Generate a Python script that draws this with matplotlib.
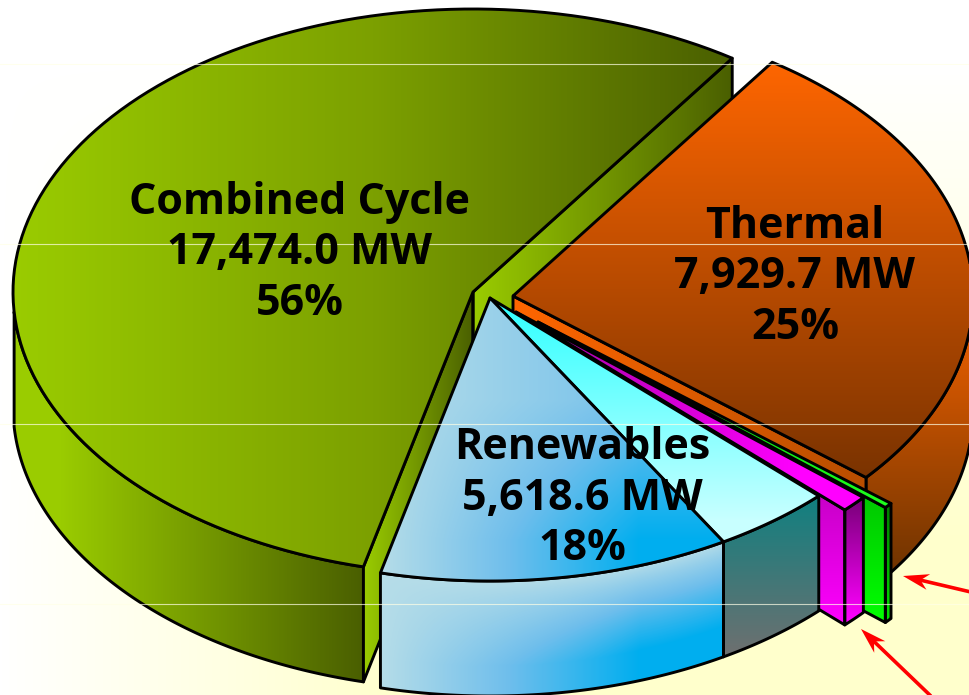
"""
Installed capacity by technology, exploded 3D pie
"""
import numpy as np
import matplotlib
matplotlib.use("Agg")
import matplotlib.pyplot as plt
import matplotlib.colors as mcolors
from matplotlib.patches import Polygon

# rim share of each slice (percent), counter-clockwise
slice_names = ["combined", "hydro", "wind", "other", "small", "thermal"]
slice_share = [55.7, 12.3, 4.2, 0.95, 0.30, 26.55]
start_angle = 55.7

labels = ["Combined Cycle\n17,474.0 MW\n56%", "Thermal\n7,929.7 MW\n25%", "Renewables\n5,618.6 MW\n18%"]
label_x = [300, 795, 582]
label_y = [253, 277, 498]

# explode offsets, in pixels
center_x = [473, 490, 490, 516, 538, 513]
center_y = [292, 298, 298, 312, 322, 296]
RX, RY, DEPTH = 460, 283, 115
W, H = 970, 695

fig = plt.figure(figsize=(W / 100, H / 100), dpi=100)
ax = fig.add_axes([0, 0, 1, 1])
ax.set_xlim(0, W)
ax.set_ylim(H, 0)
ax.set_autoscale_on(False)
ax.axis("off")

# slice angles from the shares
edges = start_angle + np.cumsum([0] + slice_share) * 3.6
ang = {n: (edges[i], edges[i + 1]) for i, n in enumerate(slice_names)}
cen = {n: (center_x[i], center_y[i]) for i, n in enumerate(slice_names)}


def rim(name, t0=None, t1=None):
    a, b = ang[name]
    t0 = a if t0 is None else t0
    t1 = b if t1 is None else t1
    t = np.radians(np.linspace(t0, t1, 120))
    cx, cy = cen[name]
    return np.column_stack([cx + RX * np.cos(t), cy - RY * np.sin(t)])


def drop(pts):
    return pts + np.array([0, DEPTH])


def wall(pts):
    return np.vstack([pts, drop(pts)[::-1]])


def fill(verts, field, stops, z, lw=2.1):
    """Clip a colour field to a polygon and stroke the outline."""
    verts = np.asarray(verts)
    x0, y0 = np.floor(verts.min(axis=0))
    x1, y1 = np.ceil(verts.max(axis=0))
    x0, x1 = max(x0, 0), min(x1, W)
    y0, y1 = max(y0, 0), min(y1, H)
    xx, yy = np.meshgrid(np.arange(x0, x1) + .5, np.arange(y0, y1) + .5)
    cmap = mcolors.LinearSegmentedColormap.from_list("g", stops)
    im = ax.imshow(field(xx, yy), cmap=cmap, vmin=0, vmax=1, extent=(x0, x1, y1, y0),
                   aspect="auto", zorder=z, interpolation="bilinear")
    patch = Polygon(verts, closed=True, fc="none", ec="black", lw=lw, joinstyle="round", zorder=z + .1)
    ax.add_patch(patch)
    im.set_clip_path(patch)


def along_x(a, b):
    return lambda x, y: np.clip((x - a) / (b - a), 0, 1)


def along_y(a, b):
    return lambda x, y: np.clip((y - a) / (b - a), 0, 1)


# background: white on top and to the left, pale yellow towards the lower right
bx, by = np.meshgrid(np.arange(W) + .5, np.arange(H) + .5)
bg = np.clip(bx / 400, 0, 1) * np.clip((by - 64) / 480, 0, 1)
ax.imshow(bg, cmap=mcolors.LinearSegmentedColormap.from_list("bg", ["#FFFFFF", "#FFFFCC"]),
          vmin=0, vmax=1, extent=(0, W, H, 0), aspect="auto", zorder=0)

# combined cycle
OLIVE = ["#9ACC00", "#4A5F00"]
OLIVE_TOP = ["#9ACC00", "#7CA000", "#4A5F00"]
cx, cy = cen["combined"]
top = rim("combined")
fill(wall(rim("combined", 184, ang["combined"][1])), along_x(60, 363), OLIVE, 1)
fill(wall(np.array([[cx, cy], top[0]])), along_x(cx, top[0][0]), OLIVE, 2)
fill(wall(np.array([top[-1], [cx, cy]])), along_x(top[-1][0], cx), OLIVE, 2)
fill(np.vstack([[cx, cy], top]), along_x(13, 733), OLIVE_TOP, 3)

# thermal
cx, cy = cen["thermal"]
top = rim("thermal")
fill(wall(rim("thermal", ang["thermal"][0], 365)), along_y(340, 575), ["#E25C00", "#6E3300"], 4)
fill(wall(np.array([[cx, cy], top[0]])), along_x(cx, top[0][0]), ["#FF6600", "#B84E00"], 5)
fill(np.vstack([[cx, cy], top]), along_y(60, 478), ["#FF6600", "#7A3300"], 6)

# the two thin slices
cx, cy = cen["small"]
top = rim("small")
fill(wall(np.array([[cx, cy], top[0]])), along_y(498, 620), ["#00C800", "#00FF00"], 7)
fill(wall(top), along_y(505, 620), ["#007A00", "#00E000"], 7)
fill(np.vstack([[cx, cy], top]), along_x(cx, top[0][0]), ["#00C000", "#1EFF1E"], 8)

cx, cy = cen["other"]
top = rim("other")
fill(wall(np.array([[cx, cy], top[0]])), along_y(495, 625), ["#C800C8", "#FF00FF"], 9)
fill(wall(top), along_y(500, 620), ["#7A007A", "#FF00FF"], 9)
fill(np.vstack([[cx, cy], top]), along_x(cx, 800), ["#A000A0", "#FF00FF"], 10)

# renewables, wind part
cx, cy = cen["wind"]
top = rim("wind")
fill(wall(top), along_y(496, 655), ["#108080", "#6E7070"], 11)
fill(np.vstack([[cx, cy], top]), along_y(298, 520), ["#2EFFFF", "#C8FFFF"], 12)

# renewables, hydro part
top = rim("hydro")
BLUE = ["#B6DDE8", "#6EBEEC", "#00AEEF"]


def hydro_wall(x, y):
    rim_y = cy + RY * np.sqrt(np.clip(1 - ((x - cx) / RX) ** 2, 0, 1))
    return np.clip((x - 380) / 260, 0, 1) * np.clip((y - rim_y) / 85, 0, 1) ** .8


def hydro_top(x, y):
    return np.clip((x - 380) / 260, 0, 1) * (.45 + .55 * np.clip((y - 400) / 140, 0, 1))


fill(wall(top), hydro_wall, BLUE, 13)
fill(np.vstack([[cx, cy], top]), hydro_top, BLUE, 14)

# seams of the original background bands run over everything
for yy in [64, 244, 424, 604]:
    ax.plot([0, W], [yy, yy], color="#FFFFE6", lw=.8, alpha=.7, zorder=20)

# arrows to the thin slices, notched heads
for tail, tip in [((975, 593), (903, 576)), ((935, 700), (861, 629))]:
    tail, tip = np.array(tail, float), np.array(tip, float)
    u = (tail - tip) / np.hypot(*(tail - tip))
    n = np.array([-u[1], u[0]])
    ax.plot([tip[0] + 16 * u[0], tail[0]], [tip[1] + 16 * u[1], tail[1]], color="#FF0000", lw=2.6,
            zorder=21, solid_capstyle="butt")
    ax.add_patch(Polygon([tip, tip + 26 * u + 8 * n, tip + 18 * u, tip + 26 * u - 8 * n], closed=True,
                         fc="#FF0000", ec="none", zorder=21))

for txt, x, y in zip(labels, label_x, label_y):
    ax.text(x, y, txt, ha="center", va="center", fontsize=31, fontweight="bold", color="black",
            linespacing=1.23, zorder=30, family="Open Sans")

fig.savefig("out.png", dpi=100)
